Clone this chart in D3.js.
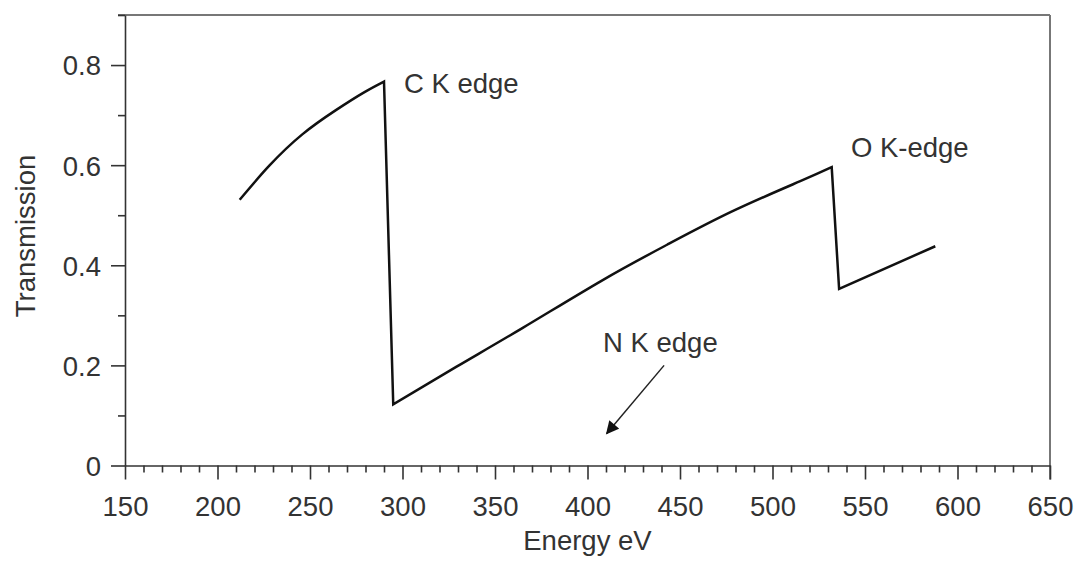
<!DOCTYPE html>
<html>
<head>
<meta charset="utf-8">
<script src="https://cdn.jsdelivr.net/npm/d3@7"></script>
<style>
  html, body { margin: 0; padding: 0; background: #fff; }
  svg text { font-family: "Liberation Sans", Arial, sans-serif; fill: #333; }
</style>
</head>
<body>
<svg id="chart" width="1077" height="565"></svg>
<script>
// --- data (energy in eV, transmission 0..1) ---
const belowC_E = [212, 228, 246, 264, 279, 290];
const belowC_T = [0.531, 0.599, 0.662, 0.710, 0.745, 0.767];
const betweenCO_E = [295, 329, 365, 408, 443, 479, 515, 532];
const betweenCO_T = [0.122, 0.197, 0.275, 0.370, 0.441, 0.509, 0.568, 0.596];
const aboveO_E = [536, 588];
const aboveO_T = [0.353, 0.438];

const xMajor = [150, 200, 250, 300, 350, 400, 450, 500, 550, 600, 650];
const yMajor = [0, 0.2, 0.4, 0.6, 0.8];
const yMinor = [0.1, 0.3, 0.5, 0.7, 0.9];

// label anchor = left end of the baseline
const notes = [
  { text: "C K edge", E: 300.8, T: 0.745 },
  { text: "O K-edge", E: 542.4, T: 0.616 },
  { text: "N K edge", E: 408.4, T: 0.226 }
];
const arrowFrom = { E: 441.4, T: 0.200 };
const arrowTo = { E: 410.4, T: 0.064 };

// --- layout ---
const W = 1077, H = 565;
const m = { left: 125, right: 27, top: 15, bottom: 99.5 };
const svg = d3.select("#chart");
const g = svg.append("g").attr("transform", `translate(${m.left},${m.top})`);
const iw = W - m.left - m.right, ih = H - m.top - m.bottom;

const x = d3.scaleLinear().domain([150, 650]).range([0, iw]);
const y = d3.scaleLinear().domain([0, 0.9]).range([ih, 0]);
const ink = "#333";

// frame top / right (grey)
g.append("line").attr("x1", -7).attr("x2", iw).attr("y1", 0).attr("y2", 0)
  .attr("stroke", "#777").attr("stroke-width", 2);
g.append("line").attr("x1", iw).attr("x2", iw).attr("y1", 0).attr("y2", ih + 14)
  .attr("stroke", "#777").attr("stroke-width", 2);

// x minor ticks
const xMinorVals = d3.range(160, 650, 10).filter(v => v % 50 !== 0);
g.append("g").attr("transform", `translate(0,${ih})`)
  .call(d3.axisBottom(x).tickValues(xMinorVals).tickSize(7).tickSizeOuter(0).tickFormat(""))
  .call(s => s.select(".domain").remove())
  .call(s => s.selectAll("line").attr("stroke", ink).attr("stroke-width", 1.6));

// x major
const xAx = g.append("g").attr("transform", `translate(0,${ih})`)
  .call(d3.axisBottom(x).tickValues(xMajor).tickSize(14).tickSizeOuter(0).tickFormat(d3.format("d")));
xAx.select(".domain").attr("stroke", ink).attr("stroke-width", 1.6);
xAx.selectAll("line").attr("stroke", ink).attr("stroke-width", 1.6);
xAx.selectAll("text").attr("y", 50).attr("dy", 0).attr("font-size", 27.5).attr("fill", ink);

// y minor
g.append("g")
  .call(d3.axisLeft(y).tickValues(yMinor).tickSize(7).tickSizeOuter(0).tickFormat(""))
  .call(s => s.select(".domain").remove())
  .call(s => s.selectAll("line").attr("stroke", ink).attr("stroke-width", 1.6));

// y major
const yAx = g.append("g")
  .call(d3.axisLeft(y).tickValues(yMajor).tickSize(14).tickSizeOuter(0)
    .tickFormat(d => d === 0 ? "0" : d3.format(".1f")(d)));
yAx.select(".domain").attr("stroke", ink).attr("stroke-width", 1.6);
yAx.selectAll("line").attr("stroke", ink).attr("stroke-width", 1.6);
yAx.selectAll("text").attr("x", -24).attr("dy", "0.36em").attr("font-size", 27.5).attr("fill", ink);

// axis titles
svg.append("text").attr("x", m.left + iw / 2).attr("y", 550).attr("text-anchor", "middle")
  .attr("font-size", 27.5).text("Energy eV");
svg.append("text").attr("transform", "translate(35,236) rotate(-90)").attr("text-anchor", "middle")
  .attr("font-size", 27.5).text("Transmission");

// curve: smooth pieces joined by the absorption-edge drops
const zip = (E, T) => E.map((e, i) => ({ E: e, T: T[i] }));
const line = d3.line().x(d => x(d.E)).y(d => y(d.T)).curve(d3.curveNatural);
const pieces = [zip(belowC_E, belowC_T), zip(betweenCO_E, betweenCO_T), zip(aboveO_E, aboveO_T)];
const dPath = pieces.map((p, i) => {
  const s = line(p);
  return i === 0 ? s : "L" + s.slice(1);
}).join("");
g.append("path").attr("d", dPath).attr("fill", "none")
  .attr("stroke", "#111").attr("stroke-width", 2.5).attr("stroke-linejoin", "miter");

// annotations
notes.forEach(n => {
  g.append("text").attr("x", x(n.E)).attr("y", y(n.T)).attr("font-size", 27.5).text(n.text);
});

svg.append("defs").append("marker").attr("id", "ah")
  .attr("viewBox", "0 0 10 10").attr("refX", 9).attr("refY", 5)
  .attr("markerWidth", 15).attr("markerHeight", 13).attr("markerUnits", "userSpaceOnUse")
  .attr("orient", "auto")
  .append("path").attr("d", "M0,0 L10,5 L0,10 Z").attr("fill", "#111");
g.append("line")
  .attr("x1", x(arrowFrom.E)).attr("y1", y(arrowFrom.T))
  .attr("x2", x(arrowTo.E)).attr("y2", y(arrowTo.T))
  .attr("stroke", "#222").attr("stroke-width", 1.5).attr("marker-end", "url(#ah)");
</script>
</body>
</html>
